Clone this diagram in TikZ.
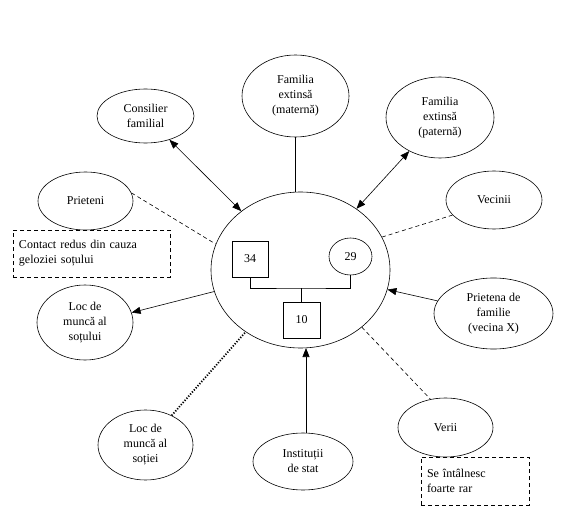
\documentclass[tikz,border=0pt]{standalone}
\usepackage{fontspec}
\setmainfont{Liberation Serif}
\usetikzlibrary{shapes.geometric,arrows.meta}
\begin{document}
\begin{tikzpicture}[x=1pt,y=-1pt,
  every node/.style={font=\fontsize{12}{15}\selectfont},
  oval/.style={draw,ellipse,inner sep=0pt,align=center,line width=0.6pt},
  sq/.style={draw,rectangle,inner sep=0pt,line width=0.6pt},
  note/.style={draw,rectangle,dash pattern=on 4pt off 3pt,align=left,inner sep=0pt,line width=0.6pt},
  link/.style={line width=0.6pt},
  dsh/.style={line width=0.6pt,dash pattern=on 4pt off 3pt},
  dots/.style={line width=1.8pt,dash pattern=on 1.2pt off 1.6pt},
  arr/.style={line width=0.6pt,-{Triangle[length=9pt,width=7pt]}},
  darr/.style={line width=0.6pt,{Triangle[length=9pt,width=7pt]}-{Triangle[length=9pt,width=7pt]}}
]
\useasboundingbox (0,0) rectangle (579,519);
% central family
\node[oval,minimum width=179pt,minimum height=156pt] (c) at (300.5,270) {};
\node[sq,minimum width=36pt,minimum height=36pt] (f) at (250,259) {34};
\node[oval,minimum width=43pt,minimum height=37pt] (m) at (350.5,256.5) {29};
\node[sq,minimum width=37pt,minimum height=36pt] (k) at (301.5,320) {10};
\coordinate (j) at (301.5,288);
\draw[link] (f.south) |- (j) -| (m.south);
\draw[link] (j) -- (k.north);
% outer nodes
\node[oval,minimum width=107pt,minimum height=82pt] (mat) at (295.5,96) {Familia\\extinsă\\(maternă)};
\node[oval,minimum width=97pt,minimum height=54pt] (cons) at (145.5,116) {Consilier\\familial};
\node[oval,minimum width=108pt,minimum height=81pt] (pat) at (440,117.5) {Familia\\extinsă\\(paternă)};
\node[oval,minimum width=96pt,minimum height=58pt] (vec) at (494,200) {Vecinii};
\node[oval,minimum width=119pt,minimum height=71pt] (pf) at (493.5,313.5) {Prietena de\\familie\\(vecina X)};
\node[oval,minimum width=95pt,minimum height=58pt] (pr) at (85.5,201) {Prieteni};
\node[oval,minimum width=96pt,minimum height=75pt] (ls) at (85,322.5) {Loc de\\muncă al\\soțului};
\node[oval,minimum width=95pt,minimum height=70pt] (lw) at (145.5,445) {Loc de\\muncă al\\soției};
\node[oval,minimum width=100pt,minimum height=57pt] (inst) at (303,461.5) {Instituții\\de stat};
\node[oval,minimum width=95pt,minimum height=59pt] (ver) at (445.5,427.5) {Verii};
% notes
\node[note,minimum width=157pt,minimum height=47pt,text width=145pt] (n1) at (91.5,253.5) {Contact redus din cauza\\geloziei soțului};
\node[note,minimum width=108pt,minimum height=48pt,text width=96pt] (n2) at (475,481) {Se întâlnesc\\foarte rar};
% connectors
\draw[link] (mat.south) -- (mat.south |- c.north);
\draw[darr] (cons) -- (c);
\draw[darr] (pat) -- (c);
\draw[dsh] (vec.200) -- (c.22);
\draw[arr] (pf) -- (c);
\draw[dsh] (pr.10) -- (c.163);
\draw[arr] (c.194) -- (ls.12);
\draw[dots] (lw) -- (c);
\draw[arr] (inst.north -| 306,0) -- (306,348);
\draw[dsh] (c.-43) -- (ver.118);
\end{tikzpicture}
\end{document}
